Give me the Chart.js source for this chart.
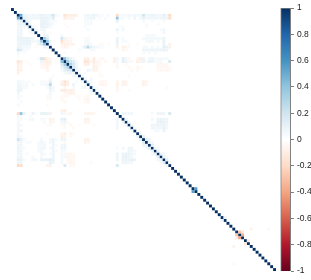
<!DOCTYPE html>
<html><head><meta charset="utf-8">
<style>html,body{margin:0;padding:0;background:#fff}canvas{display:block}</style>
<script src="https://cdn.jsdelivr.net/npm/chart.js@4"></script>
</head><body><canvas id="c" width="311" height="280"></canvas>
<script>
const varCount = 91;
const legendTicks = [-1,-0.8,-0.6,-0.4,-0.2,0,0.2,0.4,0.6,0.8,1];
const palette = ["#67001F","#B2182B","#D6604D","#F4A582","#FDDBC7","#FFFFFF","#D1E5F0","#92C5DE","#4393C3","#2166AC","#053061"];
// Each row: [row index, col, r, col, r, ...] upper triangle only
const rowsA = [
[2, 3,.5,4,.09,5,.07,6,.06,7,.07,8,.06,9,.07,10,.09,11,.07,12,.07,13,.09,14,.2,15,.06,16,.03,18,-.15,19,-.1,20,-.09,21,-.1,22,-.08,25,.06,26,.07,27,.07,28,.09,29,.07,30,.04,31,.03,33,.04,36,-.2,37,.05,38,.04,39,.05,40,.06,41,.05,42,.06,43,.05,44,.06,45,.2,46,.07,47,.07,48,.09,49,.07,50,.07,51,.06,52,.11,53,.07,54,-.2],
[3, 4,.12,5,.09,6,.07,7,.07,8,.07,9,.06,10,.1,11,.09,12,.09,13,.07,14,.14,18,-.09,19,-.06,20,-.06,21,-.06,25,.05,26,.06,27,.07,28,.07,30,.03,32,.04,36,.4,37,.04,38,.05,40,.05,42,.08,44,.05,45,.11,46,.06,47,.07,48,.06,49,.07,50,.06,51,.07,52,.09,53,.07,54,-.18],
[4, 5,.08,6,.06,10,.09,11,.1,12,.08,13,.05,14,.04,15,.03,25,.04,26,.03,27,.04,36,.1,45,.04,48,.03,52,.04],
[5, 6,.05,10,.1,11,.1,12,.09,13,.06,14,.04,18,-.03,25,.03,26,.05,27,.04,46,.03,50,.03],
[6, 7,.05,8,.04,10,.09,11,.09,12,.08,13,.05,19,-.03,25,.03,37,.03,38,.04,46,.03],
[7, 8,.05,10,.06,11,.06,26,.04,36,.09,38,.06,51,.04,52,.06],
[8, 11,.05,13,-.03,36,.03,52,.06]
];
const rowsB = [
[9, 11,.08,12,.08,17,.05,46,.04,47,.04,48,.05,49,.04],
[10, 11,.35,12,.15,17,.2,18,.08,19,-.05,20,-.04,25,.04,26,.04,36,.09,38,.04,45,.05,46,.06,47,.05,48,.06,49,.05,50,.06,51,.05,52,.09],
[11, 12,.4,13,.08,17,-.18,18,-.08,19,-.06,20,-.05,25,.04,26,.05,36,.1,38,.04,39,.04,46,.05,47,.06,48,.06,50,.05,52,.09],
[12, 13,.06,17,-.08,18,-.09,19,-.08,20,-.06,21,-.06,25,-.04,26,.06,27,.04,30,-.03,31,-.04,33,-.03,36,.09,40,-.03,43,-.03,52,.09,54,-.07],
[13, 17,-.05,18,-.08,19,-.05,24,.05,25,.12,26,.28,27,.11,28,.08,29,.06,30,.04,31,.03,36,-.08,38,-.08,39,-.06,40,.03,45,.05,46,.05,48,.05,50,.04,52,.12,53,.1,54,-.08],
[14, 23,.03,27,.05,28,.05,38,-.06,39,-.05,45,.08,46,.08,47,.08,48,.08,49,.08,50,.08,51,.08,52,.1,53,.08],
[15, 18,.03,45,.04,47,.04,49,.04],
[16, 17,.03]
];
const rowsC = [
[17, 18,.42,19,.18,20,.1,21,.05,25,-.08,26,-.09,28,-.11,30,-.04,31,-.05,35,-.08,36,.06,38,.12,39,.06,40,-.04,43,-.06,44,-.09,45,.08,47,.06,48,.08,49,.04,50,.05,51,.05,52,.05,53,.05],
[18, 19,.35,20,.2,21,.12,22,.05,25,-.16,26,-.14,27,-.05,28,-.11,29,-.05,30,-.04,32,-.05,35,-.09,36,.05,38,.12,39,.08,40,.04,41,-.04,43,-.09,44,-.06,45,.08,46,-.04,47,.08,48,.08,49,.04,50,.04,51,.05,54,.16],
[19, 20,.3,21,.18,22,.06,25,-.09,26,-.09,28,-.08,29,-.06,30,-.04,36,-.04,39,-.04,50,-.05,51,-.05,52,-.05,53,-.04],
[20, 21,.18,22,.08,28,-.09,29,-.08,36,-.05,40,-.04,43,-.05,44,-.03,50,-.05,51,-.05,52,-.05,53,-.05,54,-.04],
[21, 22,.06,23,.05,26,.08,27,.05,28,-.08,29,-.06,41,-.04,43,-.03,50,-.04,51,-.05,52,-.04,53,-.05,54,-.04],
[22, 23,.04,25,.03,30,-.03],
[23, 24,.05,30,-.03,31,-.03,40,-.03],
[24, 25,.06,27,.05],
[25, 26,.08,27,.06,30,-.04,31,-.05,32,-.04,36,-.06,38,-.08,39,-.06,45,-.08,46,-.06],
[26, 27,.05,30,-.05,31,-.06,32,-.05,36,-.08,38,-.08,39,-.06,45,-.08,46,-.05],
[27, 28,.06,29,.03,36,-.06,53,.03],
[28, 29,.04,36,-.05,40,-.03]
];
const rowsD = [
[36, 38,.08,39,.06,40,.06,41,.06,48,.03,50,.08,51,.08,52,.08,54,.18],
[38, 39,.08,48,.06,50,.09,51,.09,52,.09,53,.08],
[39, 40,.06,50,.09,51,.11,52,.09,53,.08],
[40, 41,.05,48,.08,49,.08,50,.09,51,.08,52,.09,53,.06],
[41, 42,.03,48,.08,49,.06,50,.06,51,.06,52,.11,53,.06],
[42, 49,.05,50,.05,52,.09],
[43, 44,.08],[44, 45,.11],[45, 46,.14,47,.08],[46, 47,.09,48,.05],[47, 48,.12],
[48, 49,.08,50,.05],[49, 50,.09],[50, 51,.11,52,.06],[51, 52,.09,53,.05],[52, 53,.12],[53, 54,.06]
];
const rowsE = [
[62, 63,.55],[72, 73,.08],
[76, 82,-.06,88,-.04],
[77, 78,-.28,79,-.12],
[78, 79,-.38],
[80, 81,-.12]
];

function hex(h){return [1,3,5].map(k=>parseInt(h.slice(k,k+2),16));}
function colorOf(v){
  const t=(v+1)/2*(palette.length-1), a=Math.min(Math.floor(t),palette.length-2), f=t-a;
  const p=hex(palette[a]), q=hex(palette[a+1]);
  return `rgb(${p.map((c,k)=>Math.round(c+(q[k]-c)*f)).join(',')})`;
}
const cells=[];
for(let d=0;d<varCount;d++) cells.push({x:d+1,y:d+1,v:1});
[...rowsA,...rowsB,...rowsC,...rowsD,...rowsE].forEach(r=>{
  for(let k=1;k<r.length;k+=2){
    cells.push({x:r[k]+1,y:r[0]+1,v:r[k+1]});
    cells.push({x:r[0]+1,y:r[k]+1,v:r[k+1]});
  }
});
new Chart(document.getElementById('c'),{
  type:'bar',
  data:{datasets:[
    {type:'scatter',label:'corr',data:cells,pointStyle:'rect',pointBorderWidth:0,borderWidth:0,
     pointRadius:ctx=>{const s=ctx.chart.scales.x;return s?(s.getPixelForValue(1)-s.getPixelForValue(0))/Math.SQRT2:2;},
     pointBackgroundColor:ctx=>ctx.raw?colorOf(ctx.raw.v):'#fff'},
    {type:'bar',label:'scale',yAxisID:'y2',data:[{x:94.83,y:[-1,1]}],barThickness:10,borderWidth:1,borderColor:'#7f7f7f',
     backgroundColor:ctx=>{const s=ctx.chart.scales.y2;if(!s||!isFinite(s.getPixelForValue(1)))return '#fff';
       const g=ctx.chart.ctx.createLinearGradient(0,s.getPixelForValue(-1),0,s.getPixelForValue(1));
       palette.forEach((c,k)=>g.addColorStop(k/(palette.length-1),c));return g;}}
  ]},
  options:{
    responsive:false,animation:false,
    layout:{padding:{left:11,top:6,bottom:9,right:0}},
    plugins:{legend:{display:false},tooltip:{enabled:false}},
    scales:{
      x:{type:'linear',min:0.5,max:96.65,display:false,offset:false,grid:{offset:false}},
      y:{type:'linear',min:0.5,max:varCount+0.5,reverse:true,display:false},
      y2:{type:'linear',position:'right',min:-1,max:1,
        afterFit:s=>{s.width=20;},
        afterBuildTicks:s=>{s.ticks=legendTicks.map(v=>({value:v}));},
        border:{color:'#7f7f7f',display:false},
        grid:{drawOnChartArea:false,drawTicks:true,tickLength:3,color:'#7f7f7f'},
        ticks:{padding:3,autoSkip:false,color:'#222',font:{family:'"Liberation Sans"',size:8.5},callback:v=>String(+(+v).toFixed(1))}}
    }
  }
});
</script></body></html>
